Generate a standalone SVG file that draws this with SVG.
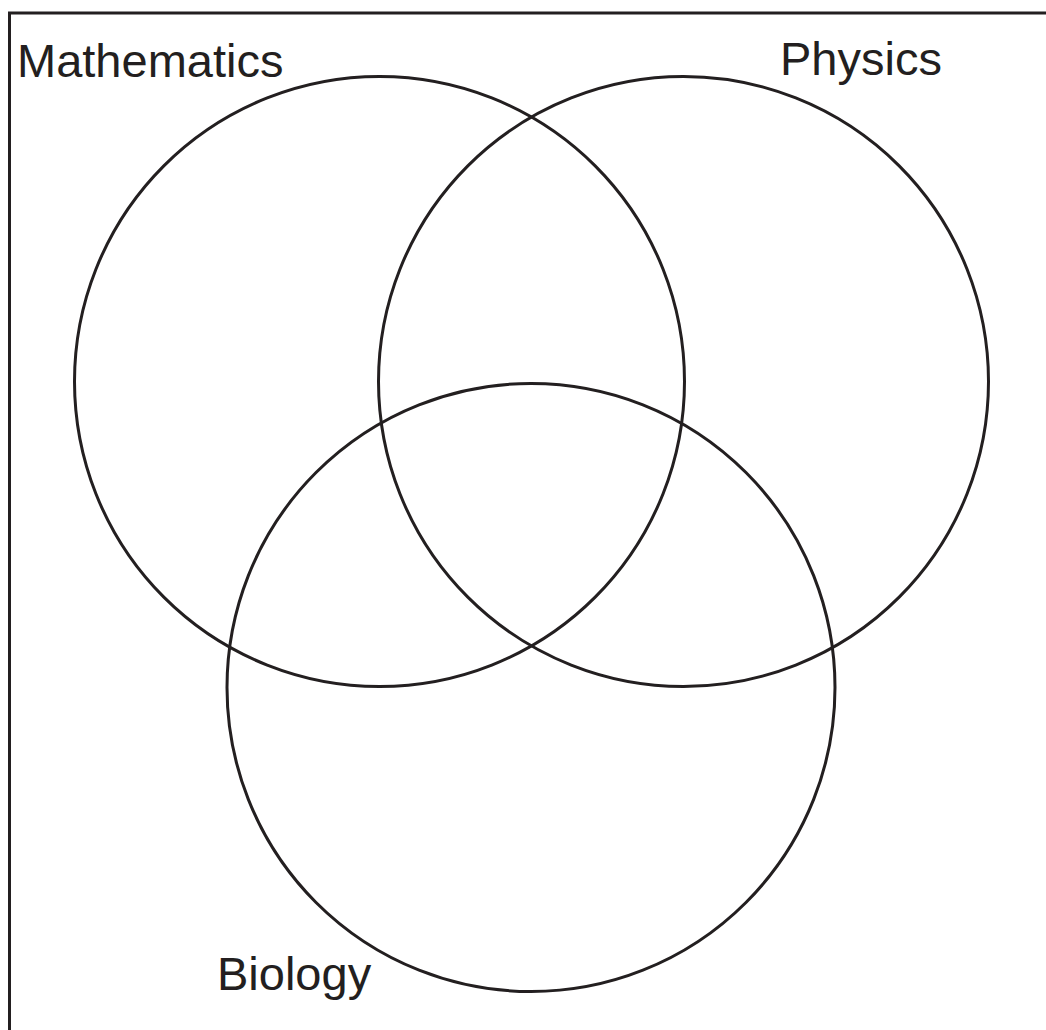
<svg xmlns="http://www.w3.org/2000/svg" width="1046" height="1030" viewBox="0 0 1046 1030">
<style>
.c{fill:none;stroke:#231f20;stroke-width:3}
.t{font-family:"Liberation Sans",Arial,sans-serif;font-size:47px;fill:#231f20}
</style>
<rect width="1046" height="1030" fill="#fff"/>
<path d="M9.5,1032 V13 H1048" fill="none" stroke="#231f20" stroke-width="3"/>
<g id="mathematics">
<circle class="c" cx="379.5" cy="381.5" r="305"/>
<text class="t" x="17" y="77">Mathematics</text>
</g>
<g id="physics">
<circle class="c" cx="683.5" cy="381.5" r="305"/>
<text class="t" x="780" y="75">Physics</text>
</g>
<g id="biology">
<circle class="c" cx="531" cy="687.5" r="304"/>
<text class="t" x="217" y="990">Biology</text>
</g>
<g id="connectors"/>
</svg>
